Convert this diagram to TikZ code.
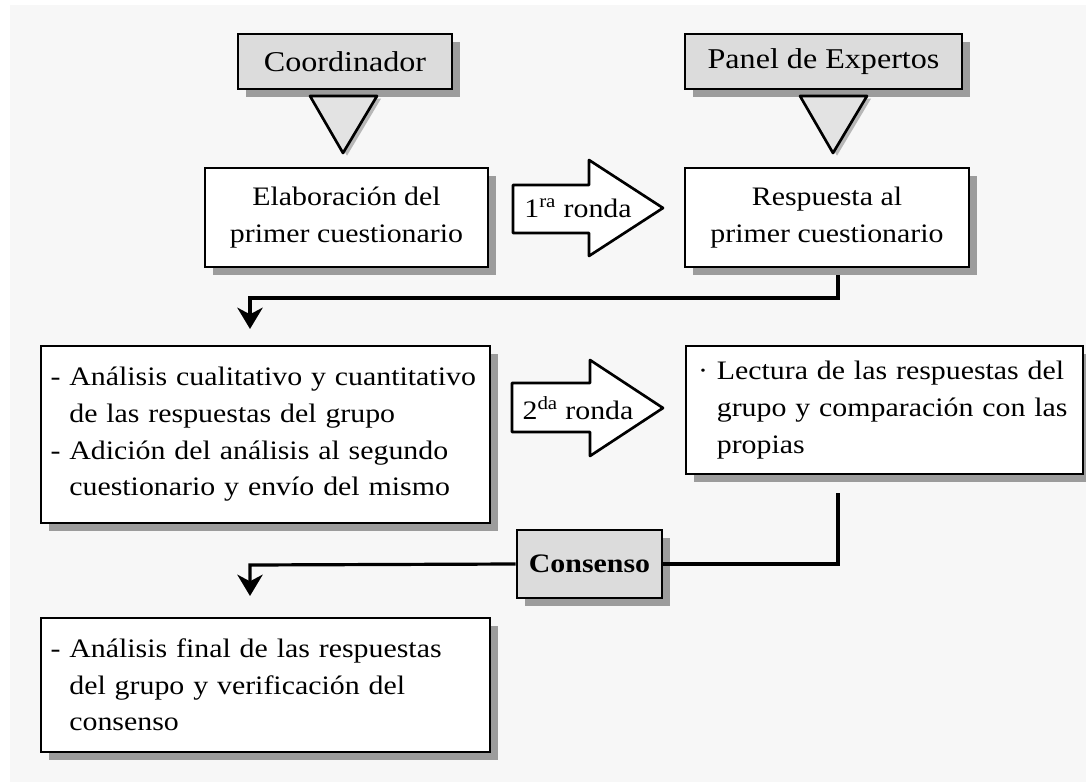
\documentclass[tikz,border=0pt]{standalone}
\usepackage{fontspec}
\setmainfont{Liberation Serif}[FakeStretch=1.12]
\usetikzlibrary{shadows,arrows.meta}
\definecolor{bg}{HTML}{F7F7F7}
\definecolor{boxgray}{HTML}{DCDCDC}
\definecolor{shgray}{HTML}{9C9C9C}
\begin{document}
\begin{tikzpicture}[x=0.75pt,y=-0.75pt,
  every node/.style={font=\fontsize{20}{27.5}\selectfont, inner sep=0pt},
  sh/.style={drop shadow={shadow xshift=6pt,shadow yshift=-6pt,fill=shgray,opacity=1}},
  actor/.style={draw,line width=2.2pt,fill=boxgray,sh,font=\fontsize{21.5}{27.5}\selectfont},
  stepbox/.style={draw,line width=2.2pt,fill=white,sh},
  tri/.style={draw,line width=2pt,fill=boxgray!80,line join=round},
  bigarrow/.style={draw,line width=2pt,fill=white,line join=round},
  conn/.style={line width=2.4pt,-{Stealth[length=16pt,width=19pt,inset=5pt]}},
  lineonly/.style={line width=2.4pt}]
\useasboundingbox (0,0) rectangle (1086,782);
\fill[white] (0,0) rectangle (1086,782);
\fill[bg] (10,5) rectangle (1086,782);

% connectors (drawn first)
\coordinate (r1) at (838,267);
\coordinate (m1) at (250,298);
\coordinate (t1) at (250,329);
\draw[conn] (r1) |- (m1) -- (t1);

\coordinate (r2) at (838,493);
\coordinate (m2) at (250,565);
\coordinate (t2) at (250,596);

% actors
\node[actor, minimum width=160.5pt, minimum height=41.25pt] (coord) at (345,61.5) {Coordinador};
\node[actor, minimum width=207.75pt, minimum height=41.25pt] (panel) at (823.5,61.5) {Panel de Expertos};

% triangles
\draw[tri, drop shadow={shadow xshift=3pt,shadow yshift=-2pt,fill=shgray,opacity=0.7}] (310,96) -- (377,96) -- (343,153) -- cycle;
\draw[tri, drop shadow={shadow xshift=3pt,shadow yshift=-2pt,fill=shgray,opacity=0.7}] (800,96) -- (867,96) -- (833,153) -- cycle;

% first-round boxes
\node[stepbox, minimum width=212.25pt, minimum height=74.25pt, align=center] (elab) at (346.5,217.5)
  {Elaboración del\\primer cuestionario};
\node[stepbox, minimum width=213pt, minimum height=74.25pt, align=center] (resp) at (827,217.5)
  {Respuesta al\\primer cuestionario};

% big arrow 1
\draw[bigarrow] (513,185) -- (589,185) -- (589,160) -- (663,208) -- (589,256) -- (589,233) -- (513,233) -- cycle;
\node (r1lab) at (578,208) {1\textsuperscript{ra} ronda};

% second-round boxes
\node[stepbox, minimum width=336.75pt, minimum height=132.75pt, text width=322.5pt, align=left] (anal) at (265.5,434.5)
  {- Análisis cualitativo y cuantitativo\\
   \hphantom{-}\ de las respuestas del grupo\\
   - Adición del análisis al segundo\\
   \hphantom{-}\ cuestionario y envío del mismo};
\node[stepbox, minimum width=297.75pt, minimum height=96pt, text width=279.75pt, align=left] (lect) at (884.5,410)
  {\textperiodcentered\ Lectura de las respuestas del\\
   \hphantom{\textperiodcentered}\ grupo y comparación con las\\
   \hphantom{\textperiodcentered}\ propias};

% big arrow 2
\draw[bigarrow] (512,383) -- (590,383) -- (590,360) -- (663,408) -- (590,456) -- (590,432) -- (512,432) -- cycle;
\node (r2lab) at (578,408) {2\textsuperscript{da} ronda};

% consenso
\node[actor, minimum width=108.75pt, minimum height=51pt, font=\fontsize{20}{27.5}\selectfont\bfseries] (cons) at (589.5,564) {Consenso};
\draw[lineonly] (r2) |- (cons.east);
\draw[conn] (cons.west) -- (m2) -- (t2);

% final box
\node[stepbox, minimum width=336.75pt, minimum height=100.5pt, text width=322.5pt, align=left] (final) at (265.5,685)
  {- Análisis final de las respuestas\\
   \hphantom{-}\ del grupo y verificación del\\
   \hphantom{-}\ consenso};
\end{tikzpicture}
\end{document}
